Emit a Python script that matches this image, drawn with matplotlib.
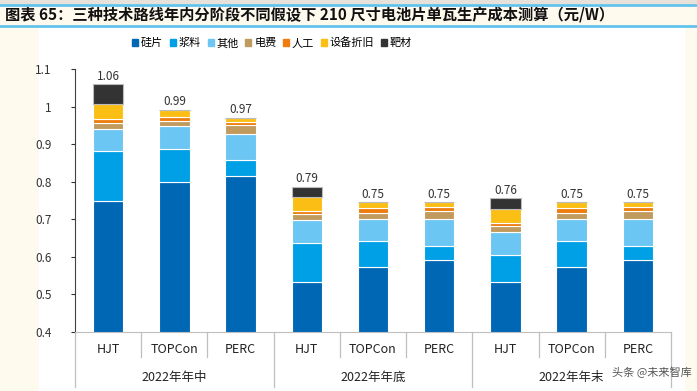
import matplotlib.pyplot as plt
import matplotlib.patches as mpatches
from matplotlib.lines import Line2D
import numpy as np

plt.rcParams['font.family'] = ['Noto Sans CJK SC', 'DejaVu Sans']

# categories
techs = ['HJT', 'TOPCon', 'PERC'] * 3
groups = ['2022年年中', '2022年年底', '2022年年末']

# cost components (元/W)
silicon = [0.748, 0.800, 0.815, 0.533, 0.574, 0.591, 0.533, 0.574, 0.591]
paste = [0.133, 0.086, 0.043, 0.104, 0.068, 0.039, 0.073, 0.068, 0.039]
other = [0.059, 0.061, 0.070, 0.061, 0.060, 0.072, 0.061, 0.060, 0.072]
power = [0.016, 0.014, 0.022, 0.016, 0.016, 0.020, 0.014, 0.016, 0.020]
labor = [0.010, 0.012, 0.009, 0.009, 0.011, 0.011, 0.010, 0.011, 0.011]
depreciation = [0.041, 0.018, 0.011, 0.036, 0.017, 0.013, 0.036, 0.017, 0.013]
target = [0.052, 0, 0, 0.028, 0, 0, 0.029, 0, 0]

series = [
    ('硅片', silicon, '#0067B4'),
    ('浆料', paste, '#00A0E6'),
    ('其他', other, '#6CC6F3'),
    ('电费', power, '#C19B5E'),
    ('人工', labor, '#EE7D0E'),
    ('设备折旧', depreciation, '#FBBE14'),
    ('靶材', target, '#333333'),
]

fig = plt.figure(figsize=(6.97, 3.91), dpi=100)
fig.patch.set_facecolor('#FFFAEE')

# page decoration: header lines and white panel
fig.add_artist(mpatches.Rectangle((0, 1 - 3 / 391), 1, 3 / 391, transform=fig.transFigure,
                                  color='#E6E2DA', zorder=0))
fig.add_artist(mpatches.Rectangle((39 / 697, 0), (684 - 39) / 697, (391 - 27) / 391,
                                  transform=fig.transFigure, color='white', zorder=0))
for yy in [5, 26]:
    fig.add_artist(Line2D([0, 1], [1 - yy / 391] * 2, transform=fig.transFigure,
                          color='#62C2EC', lw=2))
fig.text(5 / 697, 1 - 14.5 / 391,
         '图表 65：三种技术路线年内分阶段不同假设下 210 尺寸电池片单瓦生产成本测算（元/W）',
         fontsize=11, fontweight='bold', fontstyle='italic', va='center', ha='left',
         color='#111111')

ax = fig.add_axes([75 / 697, 1 - 332 / 391, (671 - 75) / 697, (332 - 69) / 391])
ax.set_facecolor('white')

x = np.arange(len(techs))
bottom = np.zeros(len(techs))
handles = []
for name, vals, color in series:
    vals = np.array(vals)
    ec = '#BBBBBB' if name == '靶材' else 'white'
    ax.bar(x, vals, 0.46, bottom=bottom, color=color, edgecolor=ec, linewidth=0.8, label=name)
    handles.append(mpatches.Patch(color=color, label=name))
    bottom += vals

for xi, total in zip(x, bottom):
    ax.text(xi, total + 0.004, f'{total:.2f}', ha='center', va='bottom', fontsize=8.5,
            color='#333333')

ax.set_xlim(-0.5, 8.5)
ax.set_ylim(0.4, 1.1)
ax.set_yticks([0.4, 0.5, 0.6, 0.7, 0.8, 0.9, 1.0, 1.1])
ax.set_yticklabels(['0.4', '0.5', '0.6', '0.7', '0.8', '0.9', '1', '1.1'])
ax.tick_params(axis='y', labelsize=8.5, colors='#333333', length=3, width=0.8, pad=14)
ax.set_xticks([])
for s in ['top', 'right']:
    ax.spines[s].set_visible(False)
ax.spines['left'].set_color('#404040')
ax.spines['bottom'].set_color('#BFBFBF')

# category labels and separators below the axis
tr = ax.get_xaxis_transform()
for xi, t in zip(x, techs):
    ax.text(xi, -0.068, t, transform=tr, ha='center', va='center', fontsize=9, color='#222222')
for gi, g in enumerate(groups):
    ax.text(gi * 3 + 1, -0.172, g, transform=tr, ha='center', va='center', fontsize=9,
            color='#222222')
for b in np.arange(-0.5, 9, 1):
    depth = -0.21 if b in (-0.5, 2.5, 5.5, 8.5) else -0.095
    ax.plot([b, b], [0, depth], transform=tr, color='#BFBFBF', lw=0.9, clip_on=False)

fig.legend(handles=handles, loc='center', bbox_to_anchor=(272 / 697, 1 - 43 / 391), ncol=7,
           frameon=False, fontsize=8, handlelength=0.55, handleheight=0.55, handletextpad=0.25,
           columnspacing=0.6)

# watermark
fig.text(692 / 697, 1 - 372 / 391, '头条 @未来智库', fontsize=8, color='#555555',
         ha='right', va='center')

fig.savefig('out.png', dpi=100, facecolor=fig.get_facecolor())
